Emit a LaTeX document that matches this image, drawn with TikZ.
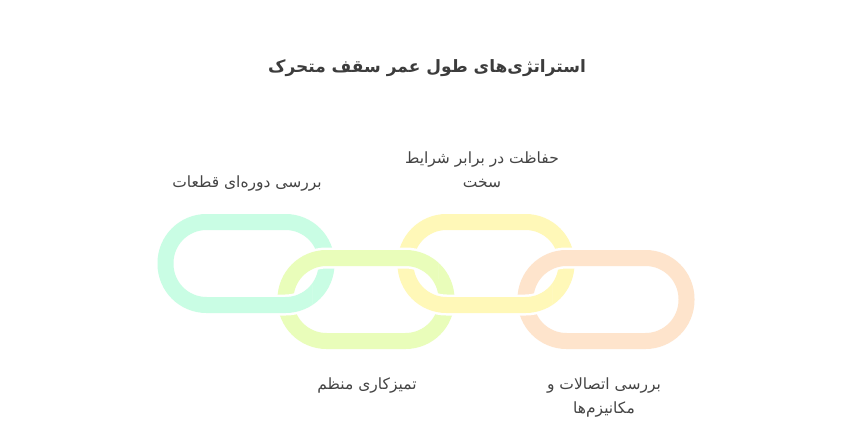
\documentclass[tikz,border=0pt]{standalone}
\usepackage{fontspec}
\TeXXeTstate=1
\newfontfamily\fa[Script=Arabic]{DejaVu Sans}
\definecolor{mint}{HTML}{C9FDE4}
\definecolor{lime}{HTML}{E9FDBA}
\definecolor{butter}{HTML}{FFF8B8}
\definecolor{peach}{HTML}{FEE4CC}
\definecolor{txt}{HTML}{444444}
\definecolor{ttl}{HTML}{3C3C3C}
\tikzset{
  linkring/.style={white, line width=2.5pt, double=#1, double distance=16pt, rounded corners=41pt},
  lbl/.style={font=\fa\fontsize{15.5}{24}\selectfont, text=txt, align=center, inner sep=0pt},
  ttlstyle/.style={font=\fa\bfseries\fontsize{17}{24}\selectfont, text=ttl, inner sep=0pt}
}
\newcommand\chainring[3]{\draw[linkring=#3] (#1-80.5,#2-41.5) rectangle (#1+80.5,#2+41.5);}
\begin{document}
\begin{tikzpicture}[x=1pt,y=-1pt]
\useasboundingbox (0,0) rectangle (860,437);
\node[ttlstyle] (title) at (427,68) {\beginR استراتژی‌های طول عمر سقف متحرک\endR};
% links
\chainring{246}{263.5}{mint}
\chainring{366}{299.5}{lime}
\chainring{486}{263.5}{butter}
\chainring{606}{299.5}{peach}
% interlock: redraw the crossings where the earlier link passes over
\begin{scope}
  \clip (262,285) rectangle (312,325);
  \chainring{246}{263.5}{mint}
\end{scope}
\begin{scope}
  \clip (388,238) rectangle (438,278);
  \chainring{366}{299.5}{lime}
\end{scope}
\begin{scope}
  \clip (502,285) rectangle (552,325);
  \chainring{486}{263.5}{butter}
\end{scope}
% labels
\node[lbl] (l1) at (247,183) {\beginR بررسی دوره‌ای قطعات\endR};
\node[lbl] (l3) at (482,170) {\beginR حفاظت در برابر شرایط\endR\\\beginR سخت\endR};
\node[lbl] (l2) at (367,385) {\beginR تمیزکاری منظم\endR};
\node[lbl] (l4) at (604,397) {\beginR بررسی اتصالات و\endR\\\beginR مکانیزم‌ها\endR};
\end{tikzpicture}
\end{document}
